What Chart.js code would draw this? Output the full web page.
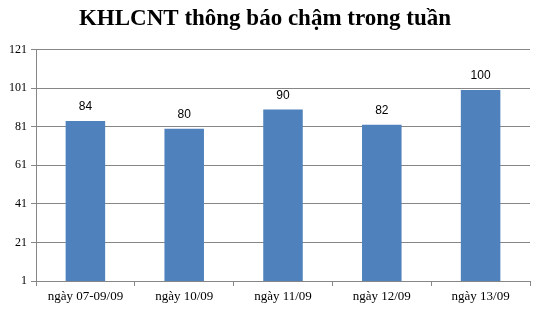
<!DOCTYPE html>
<html>
<head>
<meta charset="utf-8">
<script src="https://cdn.jsdelivr.net/npm/chart.js@4/dist/chart.umd.min.js"></script>
<style>
html,body{margin:0;padding:0;background:#fff;}
#wrap{width:541px;height:310px;position:relative;}
</style>
</head>
<body>
<div id="wrap"><canvas id="c" width="541" height="310"></canvas></div>
<script>
const titleText = "KHLCNT thông báo chậm trong tuần";
const categories = ["ngày 07-09/09", "ngày 10/09", "ngày 11/09", "ngày 12/09", "ngày 13/09"];
const values = [84, 80, 90, 82, 100];
const yTicks = [1, 21, 41, 61, 81, 101, 121];

const barLabels = {
  id: 'barLabels',
  afterDatasetsDraw(chart) {
    const ctx = chart.ctx;
    const meta = chart.getDatasetMeta(0);
    ctx.save();
    ctx.font = '12px "Liberation Sans", Arial, sans-serif';
    ctx.fillStyle = '#000';
    ctx.textAlign = 'center';
    ctx.textBaseline = 'middle';
    meta.data.forEach((bar, i) => {
      ctx.fillText(String(chart.data.datasets[0].data[i]), bar.x, bar.y - 14);
    });
    ctx.restore();
  }
};

new Chart(document.getElementById('c'), {
  type: 'bar',
  data: {
    labels: categories,
    datasets: [{
      data: values,
      backgroundColor: '#4F81BD',
      borderWidth: 0,
      barPercentage: 0.4,
      categoryPercentage: 1.0
    }]
  },
  options: {
    responsive: false,
    animation: false,
    layout: { padding: { left: 0, right: 11, top: 0, bottom: 0 } },
    plugins: {
      legend: { display: false },
      tooltip: { enabled: false },
      title: {
        display: true,
        text: titleText,
        color: '#000',
        font: { family: '"Liberation Serif", "Times New Roman", serif', size: 23, weight: 'bold' },
        padding: { top: 5, bottom: 17 }
      }
    },
    scales: {
      x: {
        offset: true,
        grid: { offset: true, drawOnChartArea: false, color: '#868686', tickLength: 5 },
        border: { color: '#868686' },
        ticks: {
          color: '#000',
          padding: 3,
          maxRotation: 0,
          font: { family: '"Liberation Serif", "Times New Roman", serif', size: 13 }
        },
        afterFit(s) { s.height = 29; }
      },
      y: {
        min: yTicks[0],
        max: yTicks[yTicks.length - 1],
        ticks: {
          stepSize: yTicks[1] - yTicks[0],
          color: '#000',
          padding: 4,
          font: { family: '"Liberation Serif", "Times New Roman", serif', size: 12 }
        },
        grid: { color: '#868686', tickLength: 5 },
        border: { color: '#868686' },
        afterFit(s) { s.width = 36; }
      }
    }
  },
  plugins: [barLabels]
});
</script>
</body>
</html>
